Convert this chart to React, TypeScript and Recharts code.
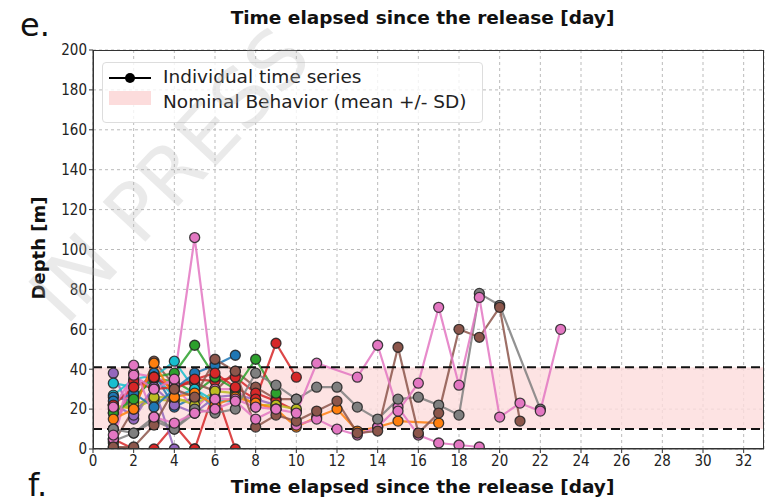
import React from 'react';
import { LineChart, Line, XAxis, YAxis, CartesianGrid, ReferenceArea, ReferenceLine } from 'recharts';

// depth tracks: [day, depth in m]
const trackPinkSpike = [[1, 21], [2, 37], [3, 30], [4, 35], [5, 106], [6, 25], [7, 25], [8, 21], [9, 20]];
const trackGreen = [[1, 18], [2, 25], [3, 36], [4, 38], [5, 52], [6, 36], [7, 30], [8, 45], [9, 28]];
const trackBlue = [[1, 24], [2, 28], [3, 21], [4, 30], [5, 38], [6, 42], [7, 47]];
const trackRed = [[1, 22], [2, 31], [3, 36], [4, 30], [5, 35], [6, 38], [7, 31], [8, 25], [9, 53], [10, 36]];
const trackRedZero = [[1, 5], [2, 0], [3, 0], [4, 12], [5, 0]];
const trackRedZero2 = [[5, 0], [6, 30], [7, 0]];
const trackPurple = [[1, 38], [2, 15], [3, 31], [4, 0]];
const trackCyan = [[1, 33], [2, 31], [3, 36], [4, 44], [5, 30], [6, 24], [7, 24]];
const trackOlive = [[1, 20], [2, 22], [3, 26], [4, 26], [5, 22], [6, 29], [7, 28], [8, 22], [9, 22], [10, 20]];
const trackOrange = [[1, 15], [2, 20], [3, 43], [4, 26], [5, 28], [6, 22], [7, 26], [8, 23], [9, 20], [10, 11], [11, 16], [12, 20], [13, 9], [14, 11], [15, 14], [17, 13]];
const trackGray = [[1, 10], [2, 8], [3, 16], [4, 10], [5, 20], [6, 18], [7, 20], [8, 38], [9, 32], [10, 25], [11, 31], [12, 31], [13, 21], [14, 15], [15, 25], [16, 26], [17, 22], [18, 17], [19, 78], [20, 72], [22, 20]];
const trackBrown = [[1, 1], [2, 1], [3, 12], [4, 30], [5, 26], [6, 45], [7, 39], [8, 11], [9, 17], [10, 14], [11, 19], [12, 24], [13, 8], [14, 9], [15, 51], [16, 8], [17, 18], [18, 60], [19, 56], [20, 71], [21, 14]];
const trackPinkLong = [[1, 7], [2, 42], [3, 16], [4, 13], [5, 18], [6, 20], [7, 24], [8, 15], [9, 20], [10, 18], [11, 43], [13, 36], [14, 52], [15, 19], [16, 33], [17, 71], [18, 32], [19, 76], [20, 16], [21, 23], [22, 19], [23, 60]];
const trackPinkLow = [[10, 12], [11, 15], [12, 10], [13, 7], [14, 11], [15, 21], [16, 7], [17, 3], [18, 2], [19, 1]];
const trackCyan2 = [[1, 27], [2, 35], [3, 37], [4, 26], [5, 30], [6, 20]];
const trackBlue2 = [[1, 26], [2, 24], [3, 38], [4, 21], [5, 26], [6, 25]];
const trackBrown2 = [[1, 3], [2, 20], [3, 44], [4, 32], [5, 33], [6, 29], [7, 39], [8, 31], [9, 25], [10, 25]];
const trackOlive2 = [[1, 22], [2, 20], [3, 25], [4, 24], [5, 25]];
const trackPurple2 = [[1, 22], [2, 17], [3, 31], [4, 22], [5, 18], [6, 26], [7, 27], [8, 25], [9, 22]];
const trackGreen2 = [[1, 18], [2, 26], [3, 35], [4, 34], [5, 28], [6, 36]];
const trackRed2 = [[1, 10], [2, 34], [3, 30], [4, 31], [5, 35], [6, 34], [7, 36], [8, 28], [9, 24], [10, 19]];
const trackPink3 = [[1, 5], [2, 38], [3, 36], [4, 32], [5, 20], [6, 30], [7, 30], [8, 21]];
const trackGray2 = [[1, 4], [2, 8], [3, 14], [4, 10], [5, 18]];
const trackDark = [[1, 1], [2, 0]];

const tracks = [
  trackGray2, trackDark, trackRedZero, trackRedZero2, trackPurple, trackOlive2, trackCyan2, trackBlue2,
  trackGreen2, trackPurple2, trackBrown2, trackRed2, trackPink3, trackOlive, trackCyan, trackBlue,
  trackGreen, trackRed, trackOrange, trackPinkSpike, trackPinkLow, trackGray, trackBrown, trackPinkLong,
];
const trackColors = [
  '#7f7f7f', '#333333', '#d62728', '#d62728', '#9467bd', '#bcbd22', '#17becf', '#1f77b4',
  '#2ca02c', '#9467bd', '#8c564b', '#d62728', '#e377c2', '#bcbd22', '#17becf', '#1f77b4',
  '#2ca02c', '#d62728', '#ff7f0e', '#e377c2', '#e377c2', '#7f7f7f', '#8c564b', '#e377c2',
];

const xTicks = [0, 2, 4, 6, 8, 10, 12, 14, 16, 18, 20, 22, 24, 26, 28, 30, 32];
const yTicks = [0, 20, 40, 60, 80, 100, 120, 140, 160, 180, 200];
const topTicks = ['0', '7', '14', '21', '28', '35', '42', '49', '56', '63', '70'];
const bandLow = 10;
const bandHigh = 41;

const TICK_FONT = '"DejaVu Sans Condensed", "DejaVu Sans", sans-serif';
const FONT = '"DejaVu Sans", sans-serif';

const App: React.FC = () => {
  return (
    <div style={{ position: 'fixed', left: 0, top: 0, width: 777, height: 503, background: '#fff', fontFamily: FONT, overflow: 'hidden' }}>
      {/* bits of the panel above */}
      {topTicks.map((t, i) => (
        <div key={t} style={{ position: 'absolute', top: -16, left: 93 + i * 66.4 - 20, width: 40, textAlign: 'center', fontSize: 15, fontFamily: TICK_FONT, color: '#222' }}>{t}</div>
      ))}
      <div style={{ position: 'absolute', top: 7, left: 228, width: 389, textAlign: 'center', fontSize: 18.5, fontWeight: 'bold', color: '#111', whiteSpace: 'nowrap' }}>
        Time elapsed since the release [day]
      </div>
      <div style={{ position: 'absolute', top: 6, left: 20, fontSize: 32, color: '#111' }}>e.</div>

      <LineChart width={777} height={503} margin={{ top: 50, right: 13, bottom: 24, left: 43 }}>
        <CartesianGrid stroke="#bbb" strokeDasharray="3 3" />
        <ReferenceArea y1={bandLow} y2={bandHigh} x1={0} x2={33} fill="#fcdcdc" fillOpacity={0.8} stroke="none" ifOverflow="hidden" />
        <XAxis type="number" dataKey="x" domain={[0, 33]} ticks={xTicks} allowDataOverflow
          tick={{ fontSize: 15, fill: '#222', fontFamily: TICK_FONT }} tickSize={4} stroke="#333" height={30} />
        <YAxis type="number" dataKey="y" domain={[0, 200]} ticks={yTicks} allowDataOverflow
          tick={{ fontSize: 15, fill: '#222', fontFamily: TICK_FONT }} tickSize={4} stroke="#333" width={50} />
        {tracks.map((t, i) => (
          <Line key={i} data={t.map(([x, y]) => ({ x, y }))} dataKey="y" type="linear"
            stroke={trackColors[i]} strokeWidth={2.2} strokeOpacity={0.85}
            dot={{ r: 5, fill: trackColors[i], stroke: '#222', strokeWidth: 1.3, fillOpacity: 1 }}
            isAnimationActive={false} />
        ))}
        <ReferenceLine y={bandHigh} stroke="#111" strokeWidth={2} strokeDasharray="9 5" />
        <ReferenceLine y={bandLow} stroke="#111" strokeWidth={2} strokeDasharray="9 5" />
      </LineChart>

      {/* frame */}
      <div style={{ position: 'absolute', left: 93, top: 50, width: 671, height: 399, border: '1px solid #333', boxSizing: 'border-box', pointerEvents: 'none' }} />

      {/* legend */}
      <div style={{ position: 'absolute', left: 102, top: 62, width: 381, height: 61, border: '1px solid #ddd', borderRadius: 4, background: 'rgba(255,255,255,0.8)', boxSizing: 'border-box' }}>
        <div style={{ position: 'absolute', left: 6, top: 14, width: 42, height: 2, background: '#000' }} />
        <div style={{ position: 'absolute', left: 22, top: 10, width: 10, height: 10, borderRadius: 5, background: '#000' }} />
        <div style={{ position: 'absolute', left: 60, top: 3, fontSize: 18.5, color: '#222', whiteSpace: 'nowrap' }}>Individual time series</div>
        <div style={{ position: 'absolute', left: 6, top: 28, width: 42, height: 14, background: '#fcdcdc' }} />
        <div style={{ position: 'absolute', left: 60, top: 28, fontSize: 18.5, color: '#222', whiteSpace: 'nowrap' }}>Nominal Behavior (mean +/- SD)</div>
      </div>

      {/* axis titles */}
      <div style={{ position: 'absolute', top: 476, left: 228, width: 389, textAlign: 'center', fontSize: 18.5, fontWeight: 'bold', color: '#111', whiteSpace: 'nowrap' }}>
        Time elapsed since the release [day]
      </div>
      <div style={{ position: 'absolute', left: 38, top: 248, transform: 'translate(-50%, -50%) rotate(-90deg)', fontSize: 18, fontWeight: 'bold', color: '#111', whiteSpace: 'nowrap' }}>
        Depth [m]
      </div>
      <div style={{ position: 'absolute', top: 466, left: 28, fontSize: 32, color: '#111' }}>f.</div>

      {/* watermark */}
      <div style={{ position: 'absolute', left: 170, top: 175, transform: 'translate(-50%, -50%) rotate(-47deg)', fontSize: 80, color: 'rgba(180,180,180,0.28)', whiteSpace: 'nowrap', pointerEvents: 'none' }}>
        IN PRESS
      </div>
    </div>
  );
};

export default App;
